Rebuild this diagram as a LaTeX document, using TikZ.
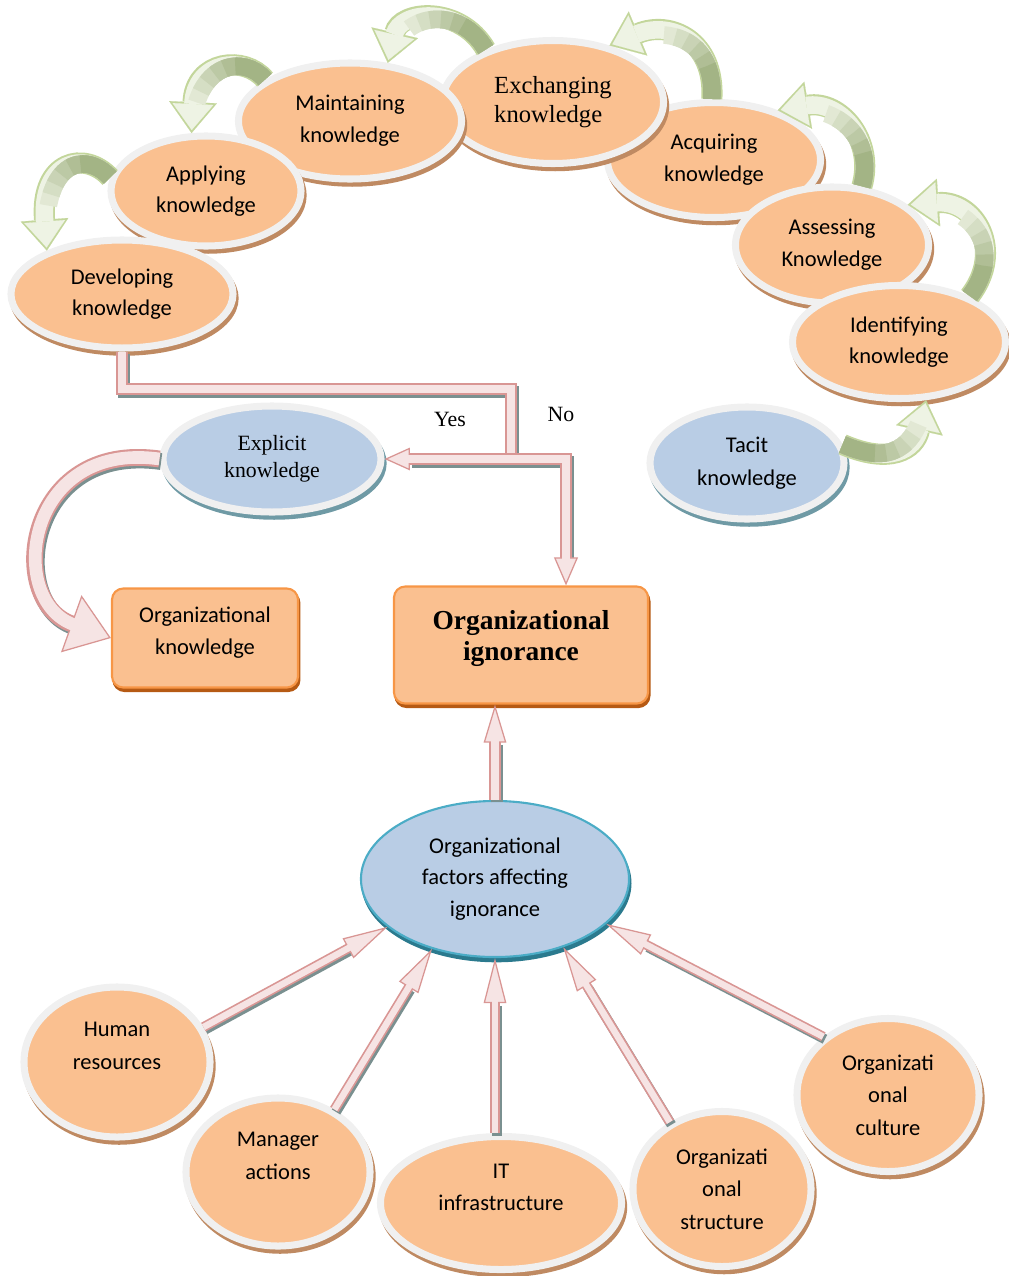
\documentclass[tikz,border=0pt]{standalone}
\usepackage{fontspec}
\setmainfont{Carlito}
\newfontfamily\timesfont{Liberation Serif}
\usepackage{tikz}
\usetikzlibrary{shapes.geometric, arrows.meta, shadows}

\definecolor{peach}{HTML}{FAC090}
\definecolor{ringgray}{HTML}{F0F0F0}
\definecolor{peachshadow}{HTML}{BF8A62}
\definecolor{skyblue}{HTML}{B9CDE5}
\definecolor{skyshadow}{HTML}{6F9AA5}
\definecolor{tealrim}{HTML}{4BACC6}
\definecolor{tealshadow}{HTML}{2B7A8E}
\definecolor{boxrim}{HTML}{F79646}
\definecolor{boxshadow}{HTML}{B65A14}
\definecolor{leafrimcol}{HTML}{C3D69B}
\definecolor{leaflight}{HTML}{EEF3E4}
\definecolor{leafdark}{HTML}{9BAD7B}
\definecolor{pinkrim}{HTML}{D99694}
\definecolor{pinkcore}{HTML}{F6E4E4}
\definecolor{pinkshadow}{HTML}{7A9090}

\tikzset{
  ring/.style={ellipse, draw=ringgray, line width=5pt, inner sep=0pt, align=center,
    font=\fontsize{16}{22.5}\selectfont},
  stage/.style={ring, fill=peach,
    general shadow={draw=peachshadow, fill=peachshadow, line width=5pt, shadow xshift=1.5pt, shadow yshift=-3pt}},
  kind/.style={ring, fill=skyblue,
    general shadow={draw=skyshadow, fill=skyshadow, line width=5pt, shadow xshift=1.5pt, shadow yshift=-3pt}},
  factor/.style={ellipse, draw=tealrim, line width=1.5pt, fill=skyblue, inner sep=0pt, align=center,
    font=\fontsize{16}{22.5}\selectfont,
    general shadow={draw=tealshadow, fill=tealshadow, line width=1.5pt, shadow xshift=1pt, shadow yshift=-3pt}},
  outcome/.style={rectangle, rounded corners=8pt, draw=boxrim, line width=1.5pt, fill=peach, align=center,
    general shadow={draw=boxshadow, fill=boxshadow, line width=1.5pt, shadow xshift=1pt, shadow yshift=-2.5pt}},
  answer/.style={font=\timesfont\fontsize{15.5}{18}\selectfont},
  leaf rim/.style={draw=leafrimcol, line width=15pt, -{Triangle[length=22pt,width=34pt,line width=0.1pt]}},
  leaf body/.style={draw=leaflight, line width=12.5pt, shorten >=2.2pt, -{Triangle[length=18.5pt,width=29pt,line width=0.1pt]}},
  leaf tone/.style={draw=#1, line width=12.5pt},
  tube shadow/.style={draw=pinkshadow, transform canvas={xshift=1.2pt, yshift=-1.8pt}},
  tube rim/.style={draw=pinkrim},
  tube core/.style={draw=pinkcore}
}

% green cycle arrow: rim, light body, darker towards the tail
\newcommand\leafarrow[1]{%
  \draw [leaf rim] #1;
  \draw [leaf body] #1;
  \foreach \len/\mix in {64/15, 56/30, 48/45, 40/60, 32/75, 24/90}
    \draw [leaf tone=leafdark!\mix!leaflight, dash pattern=on \len pt off 600pt] #1;
}
% pink arrow: band width, core width, tip length, tip width, path
\newcommand\pinktube[5]{%
  \draw [tube shadow, line width=#1, shorten >=#3] #5;
  \draw [tube rim, line width=#1, -{Triangle[length=#3,width=#4,fill=pinkcore,line width=0.9pt]}] #5;
  \draw [tube core, line width=#2, shorten >=#3-2pt] #5;
}

\begin{document}
\begin{tikzpicture}[x=0.025cm, y=-0.025cm]
  \useasboundingbox (0,0) rectangle (1008,1276);

  % knowledge cycle
  \node [stage, minimum width=5.325cm, minimum height=2.875cm] (acq) at (714,160) {Acquiring\\knowledge};
  \node [stage, minimum width=5.525cm, minimum height=3.075cm, align=left,
    font=\timesfont\fontsize{17.5}{21}\selectfont] (exch) at (553,102) {Exchanging\\knowledge};
  \node [stage, minimum width=5.575cm, minimum height=2.9cm] (maint) at (350,121) {Maintaining\\knowledge};
  \node [stage, minimum width=4.75cm, minimum height=2.75cm] (apply) at (206,191) {Applying\\knowledge};
  \node [stage, minimum width=5.55cm, minimum height=2.7cm] (dev) at (122,294) {Developing\\knowledge};
  \node [stage, minimum width=4.825cm, minimum height=2.9cm] (assess) at (832,245) {Assessing\\Knowledge};
  \node [stage, minimum width=5.325cm, minimum height=2.825cm] (ident) at (899,342) {Identifying\\knowledge};

  \node [kind, minimum width=4.85cm, minimum height=2.8cm, font=\fontsize{16}{23.5}\selectfont] (tacit) at (747,463) {Tacit\\knowledge};
  \node [kind, minimum width=5.45cm, minimum height=2.65cm, font=\timesfont\fontsize{15.5}{19}\selectfont] (expl) at (272,459) {Explicit\\knowledge};

  \node [outcome, minimum width=4.65cm, minimum height=2.475cm, font=\fontsize{16}{22.5}\selectfont] (orgk) at (205,638) {Organizational\\knowledge\\[-12pt]\mbox{}};
  \node [outcome, minimum width=6.35cm, minimum height=2.925cm, font=\timesfont\bfseries\fontsize{19.5}{22}\selectfont] (ign) at (521,645) {Organizational\\ignorance\\[-9pt]\mbox{}};

  \node [factor, minimum width=6.7cm, minimum height=3.9cm] (factors) at (495,879) {Organizational\\factors affecting\\ignorance};

  % factor ellipses
  \node [stage, minimum width=4.65cm, minimum height=3.75cm, font=\fontsize{16}{23.5}\selectfont] (human) at (117,1062) {Human\\resources\\~};
  \node [stage, minimum width=4.6cm, minimum height=3.7cm, font=\fontsize{16}{23.5}\selectfont] (manager) at (278,1172) {Manager\\actions\\~};
  \node [stage, minimum width=6.025cm, minimum height=3.325cm, font=\fontsize{16}{22.5}\selectfont] (it) at (501,1203) {IT\\infrastructure\\~};
  \node [stage, minimum width=4.45cm, minimum height=3.875cm, font=\fontsize{16}{23}\selectfont] (structure) at (722,1189) {Organizati\\onal\\structure};
  \node [stage, minimum width=4.55cm, minimum height=3.825cm, font=\fontsize{16}{23}\selectfont] (culture) at (888,1095) {Organizati\\onal\\culture};

  % green arrows round the cycle
  \leafarrow{(apply.172) .. controls (85,150) and (40,160) .. (dev.150)}
  \leafarrow{(maint.154) .. controls (245,55) and (195,60) .. (apply.104)}
  \leafarrow{(exch.142) .. controls (460,5) and (400,10) .. (maint.57)}
  \leafarrow{(acq.92) .. controls (715,40) and (670,20) .. (exch.45)}
  \leafarrow{(assess.63) .. controls (875,140) and (840,100) .. (acq.38)}
  \leafarrow{(ident.33) .. controls (1005,250) and (975,200) .. (assess.28)}
  \leafarrow{(tacit.11) .. controls (890,465) and (915,450) .. (ident.295)}

  % yes / no split
  \coordinate (turn) at (511,389);
  \coordinate (split) at (511,459);
  \coordinate (nobend) at (566,459);
  \draw [tube shadow, line width=8.5pt] (dev.south) |- (turn) -- (split);
  \draw [tube rim, line width=8.5pt] (dev.south) |- (turn) -- (split);
  \draw [tube core, line width=6pt] (dev.south) |- (turn) -- (split);
  \pinktube{8.5pt}{6pt}{18pt}{16pt}{(split) -- (expl.east)}
  \pinktube{8.5pt}{6pt}{20pt}{17pt}{(split) -- (nobend) -- (nobend |- ign.north)}

  \node [answer] (yes) at (450,419) {Yes};
  \node [answer] (no) at (561,414) {No};

  \pinktube{12pt}{9pt}{30pt}{43pt}{(expl.west) .. controls (25,440) and (5,600) .. (orgk.west)}

  % factors into ignorance
  \pinktube{8.5pt}{6pt}{27pt}{16pt}{(factors.north) -- (factors.north |- ign.south)}
  \pinktube{7pt}{4.6pt}{32pt}{16pt}{(human.22) -- (factors.204)}
  \pinktube{7pt}{4.6pt}{32pt}{16pt}{(manager.48) -- (factors.228)}
  \pinktube{7pt}{4.6pt}{32pt}{16pt}{(it.north -| factors.south) -- (factors.south)}
  \pinktube{7pt}{4.6pt}{32pt}{16pt}{(structure.128) -- (factors.315)}
  \pinktube{7pt}{4.6pt}{32pt}{16pt}{(culture.138) -- (factors.338)}
\end{tikzpicture}
\end{document}
